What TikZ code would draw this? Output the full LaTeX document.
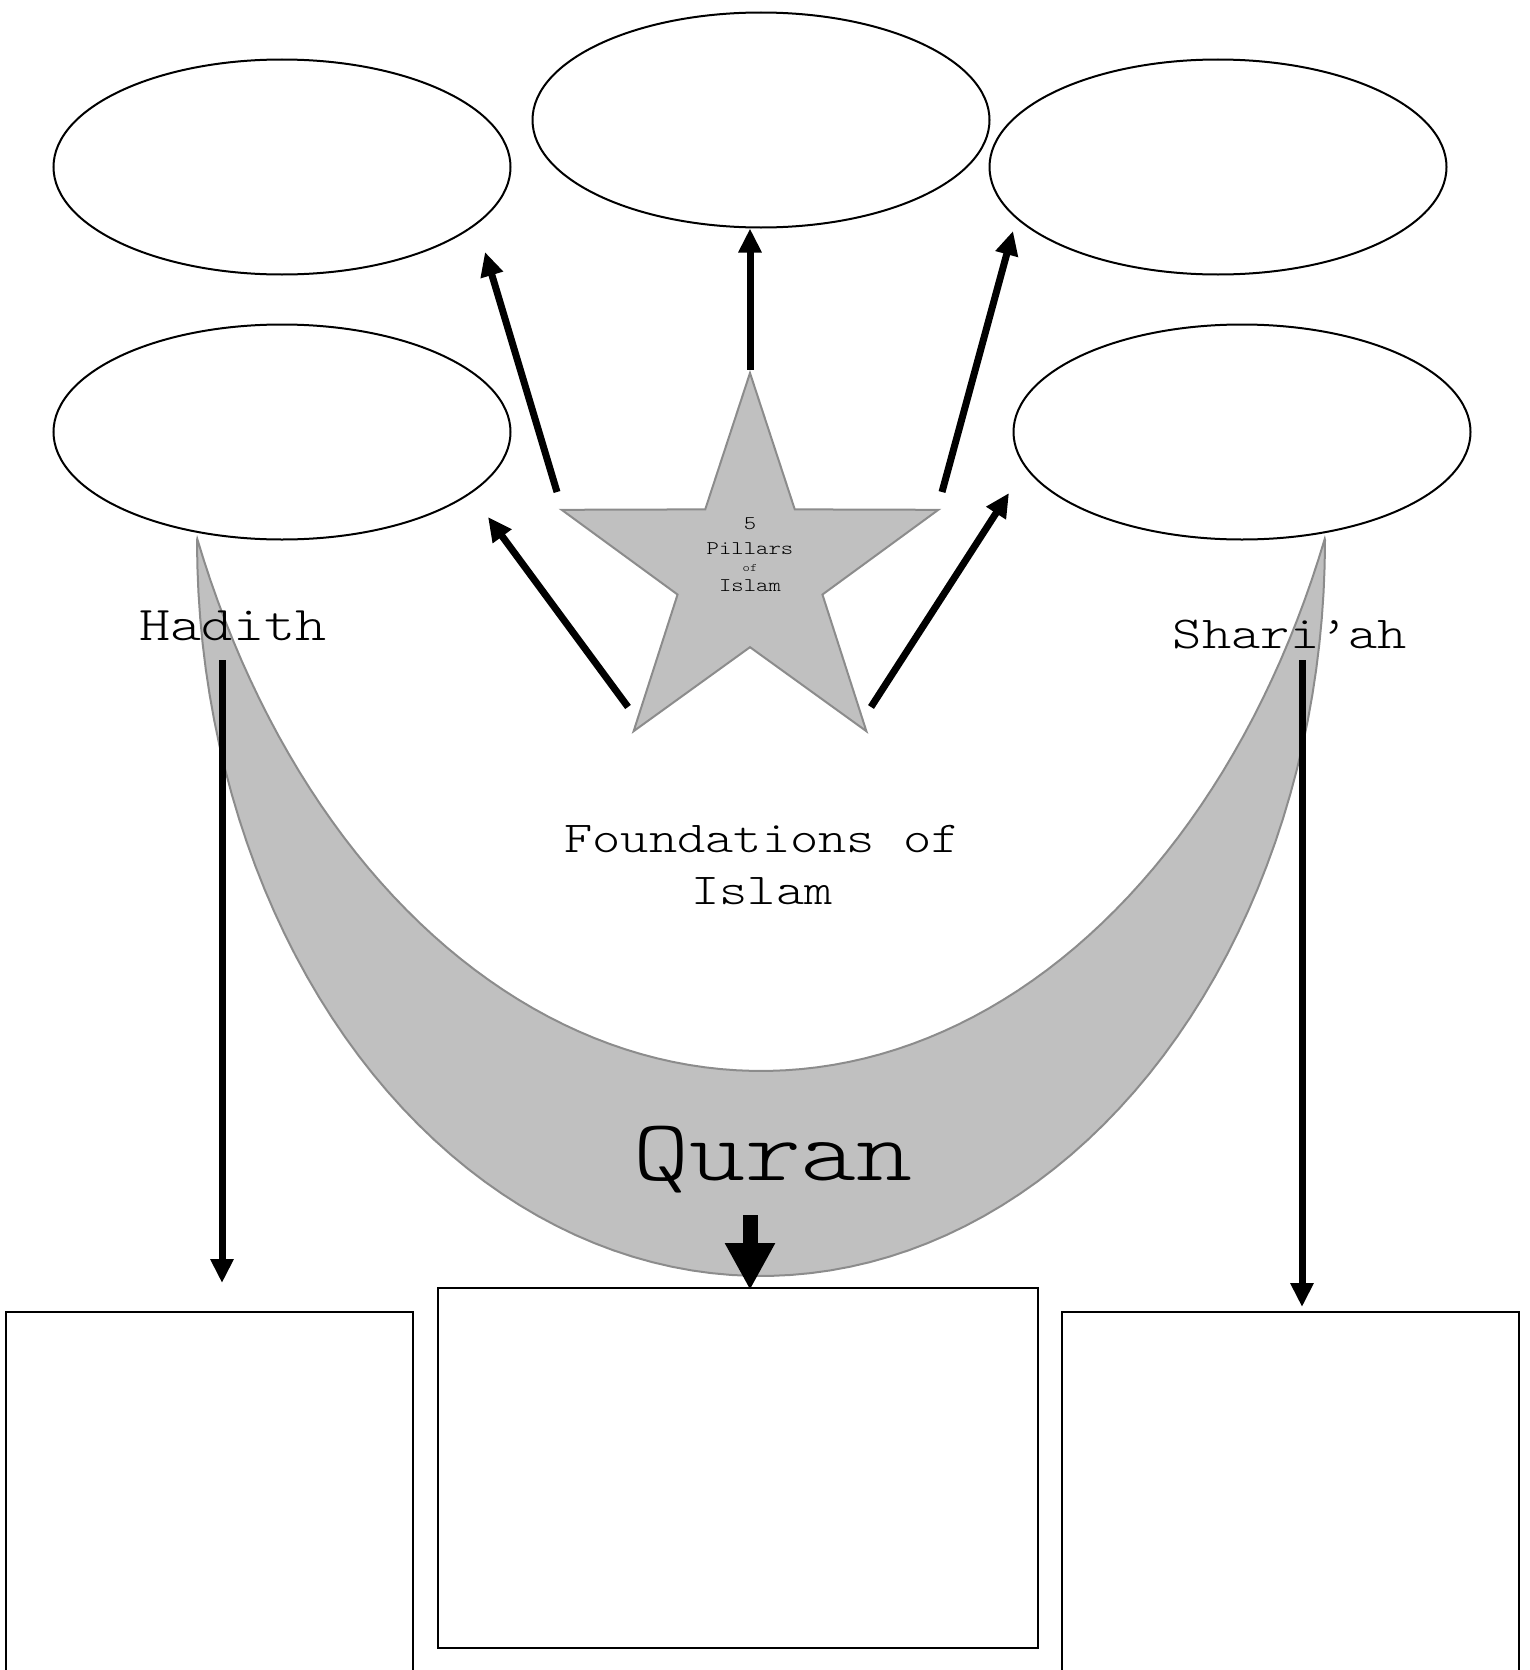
\documentclass[tikz,border=0pt]{standalone}
\usepackage{fontspec}
\setmonofont{lmmonolt10-regular.otf}[FakeStretch=1.22]
\usetikzlibrary{positioning}
\usetikzlibrary{calc}
\usetikzlibrary{arrows.meta}
\usetikzlibrary{shapes.geometric}
\definecolor{moon}{RGB}{192,192,192}
\definecolor{rim}{RGB}{140,140,140}

\begin{document}
\begin{tikzpicture}[x=1pt, y=-1pt, every node/.style={font=\ttfamily},
    oval/.style={draw, line width=2pt, ellipse, minimum width=457pt, minimum height=215pt, inner sep=0pt},
    panel/.style={draw, line width=2pt, inner sep=0pt, anchor=north},
    arrow/.style={line width=7pt, -{Triangle[length=24pt, width=22pt]}},
    bigarrow/.style={line width=15pt, -{Triangle[length=47pt, width=47pt]}}]
    \useasboundingbox (0,0) rectangle (1530,1670);
    % crescent
    \filldraw[fill=moon, draw=rim, line width=2pt]
        plot[domain=0:180, samples=90] ({761+564*cos(\x)}, {540+736*sin(\x)})
        -- plot[domain=22.9:157.1, samples=90] ({761-612*cos(\x)}, {200+871*sin(\x)}) -- cycle;
    % ovals
    \foreach \n/\cx/\cy in {ovalA/282/167, ovalB/761/120, ovalC/1218/167, ovalD/282/432, ovalE/1242/432}
        \node[oval] (\n) at (\cx,\cy) {};
    % boxes
    \node[panel, minimum width=407pt, minimum height=420pt] (boxL) at (209.5,1311) {};
    \node[panel, minimum width=600pt, minimum height=360pt] (boxQ) at (738,1287) {};
    \node[panel, minimum width=457pt, minimum height=420pt] (boxR) at (1290,1311) {};
    % star
    \node[star, star points=5, star point ratio=2.6, minimum size=396pt, inner sep=0pt,
        fill=moon, draw=rim, line width=2pt] (pillars) at (750,571) {};
    \node[font=\ttfamily\fontsize{19.3}{25}\selectfont, align=center] (pillarstext) at (750,555)
        {5\\Pillars\\[-8pt]{\fontsize{11.4}{14}\selectfont of}\\[-5pt]Islam};
    % labels
    \node[font=\ttfamily\fontsize{48.5}{60}\selectfont, anchor=base] (hadith) at (233,640) {Hadith};
    \node[font=\ttfamily\fontsize{45.7}{58}\selectfont, anchor=base] (shariah) at (1290,648) {Shari’ah};
    \node[font=\ttfamily\fontsize{44.1}{52}\selectfont, align=center] (found) at (762,865) {Foundations of\\Islam};
    \node[font=\ttfamily\fontsize{87.4}{100}\selectfont, anchor=base] (quran) at (773,1180) {Quran};
    % arrows
    \foreach \n/\px/\py in {ulS/557/492, ulT/485/252, urS/942/492, urT/1013/231,
        llS/628/707, llT/488/517, lrS/871/707, lrT/1009/493,
        hadithS/222/660, hadithT/222/1283, shariahS/1302/660, shariahT/1302/1307, quranS/750/1215}
        \coordinate (\n) at (\px,\py);
    \foreach \a/\b in {ulS/ulT, urS/urT, llS/llT, lrS/lrT, hadithS/hadithT, shariahS/shariahT}
        \draw[arrow] (\a) -- (\b);
    \draw[arrow] (pillars.north) -- (pillars.north |- ovalB.south);
    \draw[bigarrow] (quranS) -- ([yshift=-3pt]quranS |- boxQ.north);
\end{tikzpicture}
\end{document}
